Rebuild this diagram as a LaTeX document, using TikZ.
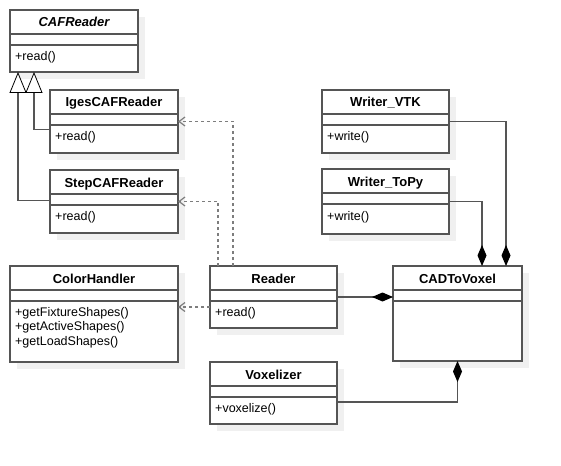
\documentclass[tikz,border=0pt]{standalone}
\usepackage{fontspec}
\setmainfont{Liberation Sans}
\usetikzlibrary{positioning,arrows.meta,calc,shadows}
\definecolor{umlLine}{RGB}{85,85,85}
\definecolor{umlDash}{RGB}{125,125,125}
\definecolor{umlShadow}{RGB}{240,240,240}
\tikzset{
    cls/.style={rectangle, draw=umlLine, line width=1.2pt, fill=white, anchor=north west,
                inner sep=0pt, outer sep=0pt,
                drop shadow={fill=umlShadow, opacity=1, shadow xshift=7pt, shadow yshift=-7pt}},
    title/.style={font=\fontsize{13}{15}\selectfont\bfseries, anchor=base, inner sep=0pt},
    ops/.style={font=\fontsize{12.5}{14.7}\selectfont, anchor=north west, align=left, inner sep=0pt},
    divider/.style={draw=umlLine, line width=1.2pt},
    inherit/.style={draw=umlLine, line width=1.2pt,
                    -{Triangle[open, fill=white, black, line width=0.8pt, length=21pt, width=17pt]}},
    dep/.style={draw=umlDash, line width=1.2pt, dash pattern=on 3pt off 3pt, -{Straight Barb[length=6pt, width=9pt]}},
    comp/.style={draw=umlLine, line width=1.2pt, -{Diamond[black, length=21pt, width=9pt]}}
}
\begin{document}
\begin{tikzpicture}[x=1pt, y=-1pt]
  \useasboundingbox (0,0) rectangle (561,465);

  % Reader classes
  \node[cls, minimum width=128pt, minimum height=62pt] (caf) at (10,10) {};
  \node[title] (caf-t) at ($(caf.north)+(0,17)$) {\itshape CAFReader};
  \node[ops] (caf-m) at ($(caf.north west)+(5,41)$) {+read()};

  \node[cls, minimum width=128pt, minimum height=63pt] (iges) at (50,90) {};
  \node[title] (iges-t) at ($(iges.north)+(0,17)$) {IgesCAFReader};
  \node[ops] (iges-m) at ($(iges.north west)+(5,41)$) {+read()};

  \node[cls, minimum width=128pt, minimum height=63pt] (step) at (50,170) {};
  \node[title] (step-t) at ($(step.north)+(0,17)$) {StepCAFReader};
  \node[ops] (step-m) at ($(step.north west)+(5,41)$) {+read()};

  \node[cls, minimum width=168pt, minimum height=96pt] (color) at (10,266) {};
  \node[title] (color-t) at ($(color.north)+(0,17)$) {ColorHandler};
  \node[ops] (color-m) at ($(color.north west)+(5,41)$)
    {+getFixtureShapes()\\+getActiveShapes()\\+getLoadShapes()};

  \node[cls, minimum width=127pt, minimum height=62pt] (reader) at (210,266) {};
  \node[title] (reader-t) at ($(reader.north)+(0,17)$) {Reader};
  \node[ops] (reader-m) at ($(reader.north west)+(5,41)$) {+read()};

  \node[cls, minimum width=127pt, minimum height=62pt] (vox) at (210,362) {};
  \node[title] (vox-t) at ($(vox.north)+(0,17)$) {Voxelizer};
  \node[ops] (vox-m) at ($(vox.north west)+(5,41)$) {+voxelize()};

  % Writer classes
  \node[cls, minimum width=127pt, minimum height=63pt] (vtk) at (322,90) {};
  \node[title] (vtk-t) at ($(vtk.north)+(0,17)$) {Writer\_VTK};
  \node[ops] (vtk-m) at ($(vtk.north west)+(5,41)$) {+write()};

  \node[cls, minimum width=127pt, minimum height=65pt] (topy) at (322,169) {};
  \node[title] (topy-t) at ($(topy.north)+(0,17)$) {Writer\_ToPy};
  \node[ops] (topy-m) at ($(topy.north west)+(5,42)$) {+write()};

  \node[cls, minimum width=129pt, minimum height=95pt] (cad) at (393,266) {};
  \node[title] (cad-t) at ($(cad.north)+(0,17)$) {CADToVoxel};

  % Compartment lines
  \foreach \n in {caf,iges,step,color,reader,vox,vtk,topy,cad}
    \foreach \d in {24,35}
      \draw[divider] ($(\n.north west)+(0,\d)$) -- ($(\n.north east)+(0,\d)$);

  % Generalisation
  \draw[inherit] ($(iges.west)+(0,8)$) -| ($(caf.south west)+(24,0)$);
  \draw[inherit] ($(step.west)+(0,-1)$) -| ($(caf.south west)+(8,0)$);

  % Dependencies
  \draw[dep] ($(reader.north west)+(23,0)$) |- (iges.east);
  \draw[dep] ($(reader.north west)+(8,0)$) |- (step.east);
  \coordinate (rd) at ($(reader.west)+(0,10)$);
  \draw[dep] (rd) -- (rd -| color.east);

  % Composition
  \draw[comp] (reader.east) -- (reader.east -| cad.west);
  \draw[comp] (vtk.east) -| ($(cad.north east)+(-16,0)$);
  \draw[comp] (topy.east) -| ($(cad.north east)+(-40,0)$);
  \draw[comp] ($(vox.east)+(0,9)$) -| (cad.south);
\end{tikzpicture}
\end{document}
